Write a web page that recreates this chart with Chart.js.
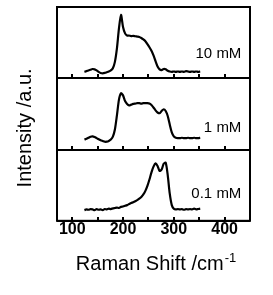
<!DOCTYPE html>
<html><head><meta charset="utf-8">
<script src="https://cdn.jsdelivr.net/npm/chart.js@4"></script>
<style>html,body{margin:0;padding:0;background:#fff;}canvas{display:block}</style>
</head><body>
<canvas id="c" width="273" height="295"></canvas>
<script>
// ---- data ----
const RAMAN_SHIFT = [124,128,132,136,140,144,148,152,156,160,164,168,172,176,180,184,188,192,196,200,
  204,208,212,216,220,224,228,232,236,240,244,248,252,256,260,264,268,272,276,280,
  284,288,292,296,300,304,308,312,316,320,324,328,332,336,340,344,348,352];
const INT_10MM = [9,10,11,12,13,12.5,11,9,7.5,7,7.5,8.5,9.5,11,14,23,42,70,89,72,
  63,60,60,59,59.5,59,58.5,58,56.5,54.5,52,48,43.5,38.5,32,24,16.5,12.5,11.5,13,
  12.5,10.5,9.5,9,9.5,9,9.5,9,9.5,9,10,9.5,9,9.5,9,9.5,9,9.5];
const INT_1MM = [14,15,16.5,18,18.5,17.5,16,14.5,13,12,11,11,12,14,18,28,48,70,79,76,
  68,64,62,63,64,64.5,65,65,64.5,65,65,65,64.5,62.5,59,55,52,51,54,56.5,
  54,47,35,24,18.5,16.5,16,16,16.5,16,16,16.5,16,16,16.5,16,16,16.5];
const INT_01MM = [15,16,15.5,16.5,16,15,16.5,15.5,16,15,16.5,16,17,16.5,17.5,18,18.5,18,19.5,20,
  21,22,23.5,25,26,27.5,29,31,33.5,37,42,49,58,68,76,80.5,77,70,72,80,
  81.5,64,38,22,17,16,16.5,16,16.5,15.5,16.5,16,16.5,16,17,16,16.5,17];
const SERIES_LABELS = ['10 mM', '1 mM', '0.1 mM'];
const X_TICKS = [100, 150, 200, 250, 300, 350, 400];
const X_TICK_LABELS = ['100', '', '200', '', '300', '', '400'];
const LABEL_X = 433;
const LABEL_Y = [34, 30, 38];
const X_TITLE = 'Raman Shift /cm';
const X_TITLE_SUP = '-1';
const Y_TITLE = 'Intensity /a.u.';

const PANEL_AXES = ['yTop', 'yMid', 'yBot'];
const SERIES = [INT_10MM, INT_1MM, INT_01MM];
const FONT = '"Liberation Sans", Arial, Helvetica, sans-serif';

const panelFrame = {
  id: 'panelFrame',
  afterDatasetsDraw(chart) {
    const {ctx, chartArea: a, scales} = chart;
    const x = scales.x;
    ctx.save();
    ctx.strokeStyle = '#000';
    ctx.fillStyle = '#000';
    ctx.lineWidth = 2;
    ctx.strokeRect(a.left, a.top, a.right - a.left, a.bottom - a.top);
    PANEL_AXES.forEach((id, i) => {
      const s = scales[id];
      const yb = Math.round(s.bottom);
      ctx.beginPath(); ctx.moveTo(a.left, yb); ctx.lineTo(a.right, yb); ctx.stroke();
      X_TICKS.forEach(v => {
        const px = Math.round(x.getPixelForValue(v));
        ctx.beginPath(); ctx.moveTo(px, yb); ctx.lineTo(px, yb - 4); ctx.stroke();
      });
      ctx.font = '15px ' + FONT;
      ctx.textAlign = 'right';
      ctx.textBaseline = 'middle';
      ctx.fillText(SERIES_LABELS[i], x.getPixelForValue(LABEL_X), s.getPixelForValue(LABEL_Y[i]));
    });
    // y title
    ctx.save();
    ctx.translate(a.left - 32, (a.top + a.bottom) / 2 + 14);
    ctx.rotate(-Math.PI / 2);
    ctx.font = '20px ' + FONT;
    ctx.textAlign = 'center';
    ctx.textBaseline = 'middle';
    ctx.fillText(Y_TITLE, 0, 0);
    ctx.restore();
    // x title with superscript
    ctx.font = '20px ' + FONT;
    const w1 = ctx.measureText(X_TITLE).width;
    ctx.font = '13px ' + FONT;
    const w2 = ctx.measureText(X_TITLE_SUP).width;
    const cx = (a.left + a.right) / 2 + 2;
    const x0 = cx - (w1 + w2) / 2;
    const by = a.bottom + 49;
    ctx.textAlign = 'left';
    ctx.textBaseline = 'alphabetic';
    ctx.font = '20px ' + FONT;
    ctx.fillText(X_TITLE, x0, by);
    ctx.font = '13px ' + FONT;
    ctx.fillText(X_TITLE_SUP, x0 + w1 + 1, by - 8);
    ctx.restore();
  }
};

const yAxis = (w) => ({
  type: 'linear', position: 'left', stack: 'panels', stackWeight: 1, weight: w,
  min: 0, max: 100,
  ticks: {display: false},
  grid: {display: false, drawTicks: false},
  border: {display: false}
});

new Chart(document.getElementById('c'), {
  type: 'line',
  data: {
    datasets: SERIES.map((arr, i) => ({
      label: SERIES_LABELS[i],
      data: RAMAN_SHIFT.map((xv, j) => ({x: xv, y: arr[j]})),
      yAxisID: PANEL_AXES[i],
      borderColor: '#000',
      borderWidth: 2.2,
      pointRadius: 0,
      tension: 0.25,
      fill: false
    }))
  },
  options: {
    responsive: false,
    animation: false,
    devicePixelRatio: 1,
    layout: {padding: {left: 57, right: 23, top: 7, bottom: 57}},
    plugins: {legend: {display: false}, tooltip: {enabled: false}},
    scales: {
      x: {
        type: 'linear', position: 'bottom', min: 70, max: 450,
        afterBuildTicks: s => { s.ticks = X_TICKS.map(v => ({value: v})); },
        ticks: {
          autoSkip: false, maxRotation: 0, minRotation: 0, padding: -1, color: '#000',
          font: {family: '"Liberation Sans Narrow", "Liberation Sans", Arial, sans-serif', size: 16, weight: 'bold'},
          callback: v => X_TICK_LABELS[X_TICKS.indexOf(v)]
        },
        grid: {display: false, drawTicks: false},
        border: {display: false}
      },
      yTop: yAxis(3),
      yMid: yAxis(2),
      yBot: yAxis(1)
    }
  },
  plugins: [panelFrame]
});
</script>
</body></html>
